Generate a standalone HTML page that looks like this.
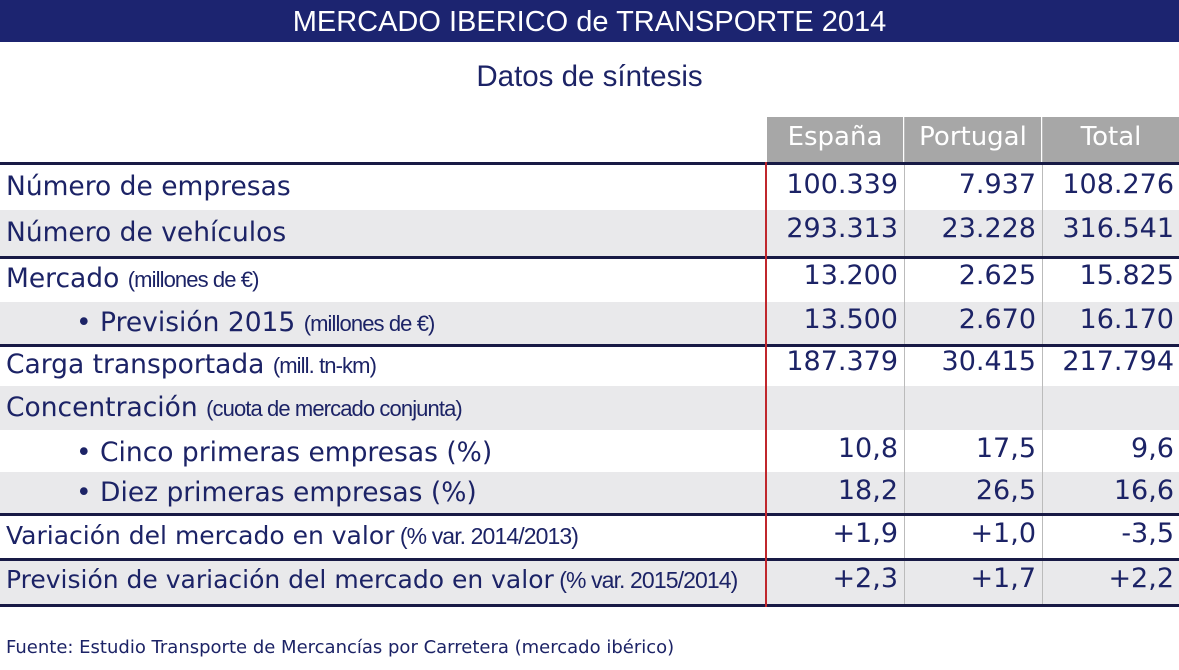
<!DOCTYPE html>
<html><head><meta charset="utf-8"><style>
*{margin:0;padding:0;box-sizing:border-box}
body{width:1179px;height:670px;background:#fff;position:relative;overflow:hidden;font-family:"DejaVu Sans","Liberation Sans",sans-serif;color:#1c2366}
.a{position:absolute}
.title{left:0;top:0;width:1179px;height:42px;background:#1c2470;color:#fff;font-family:"Liberation Sans",sans-serif;font-size:29px;text-align:center;line-height:44px}
.sub{left:0;top:60px;width:1179px;text-align:center;font-family:"Liberation Sans",sans-serif;font-size:29.5px}
.hd{top:117px;height:45px;background:#a7a7a7;color:#fff;font-size:26px;text-align:center;line-height:40px}
.row{left:0;width:1179px}
.g{background:#e9e9eb}
.line{left:0;width:1179px;height:3px;background:#181a45}
.lab{left:6px;font-size:26.5px;white-space:nowrap}
.lab2{left:6px;font-size:25px;white-space:nowrap}
.sm{font-family:"Liberation Sans",sans-serif;font-size:22px;letter-spacing:-0.9px}
.n{font-size:27px;text-align:right;width:130px;white-space:nowrap}
.vd{width:1px;background:#bbb;top:117px;height:488px}
</style></head><body>
<div class="a title">MERCADO IBERICO de TRANSPORTE 2014</div>
<div class="a sub">Datos de síntesis</div>
<div class="a hd" style="left:767px;width:136px">España</div>
<div class="a hd" style="left:905px;width:136px">Portugal</div>
<div class="a hd" style="left:1043px;width:136px">Total</div>

<div class="a row g" style="top:210px;height:46px"></div>
<div class="a row g" style="top:302px;height:43px"></div>
<div class="a row g" style="top:386px;height:44px"></div>
<div class="a row g" style="top:472px;height:42px"></div>
<div class="a row g" style="top:561px;height:43px"></div>

<div class="a vd" style="left:904px"></div>
<div class="a vd" style="left:1042px"></div>

<div class="a line" style="top:162px"></div>
<div class="a line" style="top:256px"></div>
<div class="a line" style="top:344px"></div>
<div class="a line" style="top:513px"></div>
<div class="a line" style="top:558px"></div>
<div class="a line" style="top:604px"></div>
<div class="a" style="left:765px;top:162px;width:2px;height:445px;background:#c0272d"></div>

<div class="a lab" style="top:171px">Número de empresas</div>
<div class="a lab" style="top:217px">Número de vehículos</div>
<div class="a lab" style="top:263px">Mercado <span class="sm">(millones de €)</span></div>
<div class="a lab" style="top:307px;left:76px">• Previsión 2015 <span class="sm">(millones de €)</span></div>
<div class="a lab" style="top:349px">Carga transportada <span class="sm">(mill. tn-km)</span></div>
<div class="a lab" style="top:392px">Concentración <span class="sm">(cuota de mercado conjunta)</span></div>
<div class="a lab" style="top:437px;left:76px">• Cinco primeras empresas (%)</div>
<div class="a lab" style="top:477px;left:76px">• Diez primeras empresas (%)</div>
<div class="a lab2" style="top:521px">Variación del mercado en valor<span class="sm" style="font-size:23px"> (% var. 2014/2013)</span></div>
<div class="a lab2" style="top:565px">Previsión de variación del mercado en valor<span class="sm" style="font-size:23px"> (% var. 2015/2014)</span></div>

<div class="a n" style="left:768px;top:169px">100.339</div><div class="a n" style="left:906px;top:169px">7.937</div><div class="a n" style="left:1044px;top:169px">108.276</div>
<div class="a n" style="left:768px;top:213px">293.313</div><div class="a n" style="left:906px;top:213px">23.228</div><div class="a n" style="left:1044px;top:213px">316.541</div>
<div class="a n" style="left:768px;top:260px">13.200</div><div class="a n" style="left:906px;top:260px">2.625</div><div class="a n" style="left:1044px;top:260px">15.825</div>
<div class="a n" style="left:768px;top:304px">13.500</div><div class="a n" style="left:906px;top:304px">2.670</div><div class="a n" style="left:1044px;top:304px">16.170</div>
<div class="a n" style="left:768px;top:346px">187.379</div><div class="a n" style="left:906px;top:346px">30.415</div><div class="a n" style="left:1044px;top:346px">217.794</div>
<div class="a n" style="left:768px;top:433px">10,8</div><div class="a n" style="left:906px;top:433px">17,5</div><div class="a n" style="left:1044px;top:433px">9,6</div>
<div class="a n" style="left:768px;top:475px">18,2</div><div class="a n" style="left:906px;top:475px">26,5</div><div class="a n" style="left:1044px;top:475px">16,6</div>
<div class="a n" style="left:768px;top:518px">+1,9</div><div class="a n" style="left:906px;top:518px">+1,0</div><div class="a n" style="left:1044px;top:518px">-3,5</div>
<div class="a n" style="left:768px;top:563px">+2,3</div><div class="a n" style="left:906px;top:563px">+1,7</div><div class="a n" style="left:1044px;top:563px">+2,2</div>

<div class="a" style="left:6px;top:637px;font-size:18px;white-space:nowrap">Fuente: Estudio Transporte de Mercancías por Carretera (mercado ibérico)</div>
</body></html>
